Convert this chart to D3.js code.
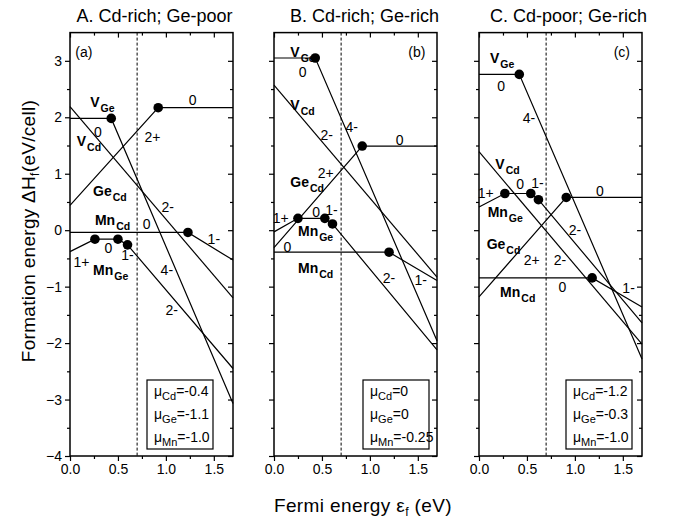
<!DOCTYPE html>
<html>
<head>
<meta charset="utf-8">
<script src="https://cdn.jsdelivr.net/npm/d3@7"></script>
<style>
  body { margin: 0; background: #fff; }
  text { font-family: "Liberation Sans", Arial, Helvetica, sans-serif; fill: #000; }
</style>
</head>
<body>
<div id="chart"></div>
<script>
// Panel titles and tags
const titles = ["A. Cd-rich; Ge-poor", "B. Cd-rich; Ge-rich", "C. Cd-poor; Ge-rich"];
const tags = ["(a)", "(b)", "(c)"];

// Chemical potentials per panel
const muCd = ["-0.4", "0", "-1.2"];
const muGe = ["-1.1", "0", "-0.3"];
const muMn = ["-1.0", "-0.25", "-1.0"];

// Axis ticks
const xTicks = [0, 0.5, 1.0, 1.5];
const xMinor = [0.25, 0.75, 1.25];
const yTicks = [-4, -3, -2, -1, 0, 1, 2, 3];
const yMinor = [-3.5, -2.5, -1.5, -0.5, 0.5, 1.5, 2.5];
const gapLine = 0.7; // dashed line

// Formation energy curves: corner points [Fermi energy, energy], one list per panel
const vGe = [
    [[0, 1.98], [0.43, 1.98], [1.7, -3.07]],
    [[0, 3.05], [0.43, 3.05], [1.7, -1.96]],
    [[0, 2.76], [0.42, 2.76], [1.7, -2.28]]
];
const vCd = [
    [[0, 2.19], [1.7, -1.20]],
    [[0, 2.57], [1.7, -0.83]],
    [[0, 1.39], [1.7, -2.02]]
];
const geCd = [
    [[0, 0.44], [0.92, 2.17], [1.7, 2.17]],
    [[0, -0.31], [0.92, 1.49], [1.7, 1.49]],
    [[0, -1.18], [0.91, 0.58], [1.7, 0.58]]
];
const mnCd = [
    [[0, -0.04], [1.23, -0.04], [1.7, -0.53]],
    [[0, -0.39], [1.20, -0.39], [1.7, -0.89]],
    [[0, -0.845], [1.18, -0.845], [1.7, -1.36]]
];
const mnGe = [
    [[0, -0.38], [0.26, -0.16], [0.50, -0.16], [0.60, -0.26], [1.7, -2.45]],
    [[0, -0.03], [0.25, 0.21], [0.53, 0.21], [0.61, 0.11], [1.7, -2.12]],
    [[0, 0.41], [0.27, 0.65], [0.54, 0.65], [0.62, 0.54], [1.7, -1.64]]
];
const curves = [vGe, vCd, geCd, mnCd, mnGe];

// Charge state labels [x, y, text]
const chargeNotes = [
    [[0.29, 1.74, "0"], [1.28, 2.30, "0"], [0.86, 1.65, "2+"], [1.02, 0.41, "2-"], [0.80, 0.11, "0"],
     [1.50, -0.16, "1-"], [0.40, -0.32, "0"], [0.60, -0.44, "1-"], [0.12, -0.56, "1+"],
     [1.01, -0.71, "4-"], [1.06, -1.41, "2-"]],
    [[0.30, 2.80, "0"], [0.55, 1.69, "2-"], [0.81, 1.83, "4-"], [1.31, 1.60, "0"], [0.54, 1.02, "2+"],
     [0.07, 0.22, "1+"], [0.44, 0.33, "0"], [0.60, 0.36, "1-"], [0.14, -0.29, "0"],
     [1.20, -0.85, "2-"], [1.53, -0.89, "1-"]],
    [[0.23, 2.55, "0"], [0.52, 1.98, "4-"], [0.07, 0.66, "1+"], [0.43, 0.81, "0"], [0.61, 0.84, "1-"],
     [1.26, 0.70, "0"], [1.00, 0.00, "2-"], [0.55, -0.53, "2+"], [0.845, -0.53, "2-"],
     [0.87, -1.00, "0"], [1.56, -1.03, "1-"]]
];

// Defect name labels [x, y, name, subscript]
const defectNotes = [
    [[0.21, 2.18, "V", "Ge"], [0.07, 1.49, "V", "Cd"], [0.24, 0.61, "Ge", "Cd"], [0.26, 0.09, "Mn", "Cd"], [0.24, -0.79, "Mn", "Ge"]],
    [[0.17, 3.07, "V", "Ge"], [0.17, 2.13, "V", "Cd"], [0.17, 0.77, "Ge", "Cd"], [0.25, -0.10, "Mn", "Ge"], [0.25, -0.75, "Mn", "Cd"]],
    [[0.115, 2.97, "V", "Ge"], [0.17, 1.08, "V", "Cd"], [0.09, 0.24, "Mn", "Ge"], [0.08, -0.34, "Ge", "Cd"], [0.22, -1.18, "Mn", "Cd"]]
];

// Layout
const width = 673, height = 519;
const panelLeft = [70, 274, 479];
const panelW = 163;
const plotTop = 32.6, plotBottom = 456;
const titleShift = [3, 9, 8];
const boxRight = [20, 8, 10];

const svg = d3.select("#chart")
    .append("svg")
    .attr("width", width)
    .attr("height", height);

const y = d3.scaleLinear().domain([-4, 3.5]).range([plotBottom, plotTop]);

titles.forEach((title, i) => {
    const x0 = panelLeft[i];
    const x = d3.scaleLinear().domain([0, 1.7]).range([x0, x0 + panelW]);
    const g = svg.append("g");

    // Title
    g.append("text")
        .attr("x", x0 + panelW / 2 + titleShift[i])
        .attr("y", 22)
        .attr("text-anchor", "middle")
        .style("font-size", "18px")
        .text(title);

    // Dashed line
    g.append("line")
        .attr("x1", x(gapLine)).attr("x2", x(gapLine))
        .attr("y1", plotTop).attr("y2", plotBottom)
        .attr("stroke", "#000")
        .attr("stroke-width", 1)
        .attr("stroke-dasharray", "3,2");

    // Axes: outward ticks left and bottom, inward ticks right and top
    const axes = [
        [d3.axisLeft(y).tickValues(yTicks).tickSize(5), `translate(${x0},0)`, i === 0],
        [d3.axisLeft(y).tickValues(yMinor).tickSize(3), `translate(${x0},0)`, false],
        [d3.axisRight(y).tickValues(yTicks).tickSize(-5), `translate(${x0 + panelW},0)`, false],
        [d3.axisRight(y).tickValues(yMinor).tickSize(-3), `translate(${x0 + panelW},0)`, false],
        [d3.axisBottom(x).tickValues(xTicks).tickSize(5).tickFormat(d3.format(".1f")), `translate(0,${plotBottom})`, true],
        [d3.axisBottom(x).tickValues(xMinor).tickSize(3), `translate(0,${plotBottom})`, false],
        [d3.axisTop(x).tickValues(xTicks).tickSize(-5), `translate(0,${plotTop})`, false],
        [d3.axisTop(x).tickValues(xMinor).tickSize(-3), `translate(0,${plotTop})`, false]
    ];
    axes.forEach(([axis, tr, labels]) => {
        const a = g.append("g").attr("transform", tr).call(axis.tickPadding(3));
        a.select(".domain").remove();
        a.selectAll("line").attr("stroke-width", 1.2);
        a.selectAll("text")
            .style("font-size", "14px")
            .style("font-family", "'Liberation Sans', Arial, sans-serif")
            .attr("fill", "#000")
            .style("display", labels ? null : "none");
    });

    // Frame
    g.append("rect")
        .attr("x", x0).attr("y", plotTop)
        .attr("width", panelW).attr("height", plotBottom - plotTop)
        .attr("fill", "none")
        .attr("stroke", "#000")
        .attr("stroke-width", 1.5);

    // Curves
    const line = d3.line().x(d => x(d[0])).y(d => y(d[1]));
    curves.forEach(c => {
        const pts = c[i];
        g.append("path")
            .attr("d", line(pts))
            .attr("fill", "none")
            .attr("stroke", "#000")
            .attr("stroke-width", 1.2);
        g.selectAll(null)
            .data(pts.slice(1, -1))
            .enter()
            .append("circle")
            .attr("cx", d => x(d[0]))
            .attr("cy", d => y(d[1]))
            .attr("r", 4.8)
            .attr("fill", "#000");
    });

    // Charge labels
    g.selectAll(null)
        .data(chargeNotes[i])
        .enter()
        .append("text")
        .attr("x", d => x(d[0]))
        .attr("y", d => y(d[1]))
        .attr("dy", "0.36em")
        .attr("text-anchor", "middle")
        .style("font-size", "14px")
        .text(d => d[2]);

    // Defect labels
    const dl = g.selectAll(null)
        .data(defectNotes[i])
        .enter()
        .append("text")
        .attr("x", d => x(d[0]))
        .attr("y", d => y(d[1]))
        .style("font-size", "14px")
        .style("font-weight", "bold");
    dl.append("tspan").text(d => d[2]);
    dl.append("tspan")
        .attr("dy", 5)
        .attr("dx", 1)
        .style("font-size", "10.5px")
        .text(d => d[3]);

    // Tag
    g.append("text")
        .attr("x", x(i === 0 ? 0.145 : 1.49))
        .attr("y", y(3.16))
        .attr("dy", "0.36em")
        .attr("text-anchor", "middle")
        .style("font-size", "14px")
        .text(tags[i]);

    // Chemical potential box
    const bx = x0 + panelW - boxRight[i] - 66;
    g.append("rect")
        .attr("x", bx).attr("y", 380)
        .attr("width", 66).attr("height", 69)
        .attr("fill", "#fff")
        .attr("stroke", "#000")
        .attr("stroke-width", 1.2);
    [["Cd", muCd[i]], ["Ge", muGe[i]], ["Mn", muMn[i]]].forEach(([el, v], k) => {
        const t = g.append("text")
            .attr("x", bx + 7)
            .attr("y", 396 + k * 23)
            .style("font-size", "14px");
        t.append("tspan").text("\u03bc");
        t.append("tspan").attr("dy", 4).style("font-size", "11px").text(el);
        t.append("tspan").attr("dy", -4).text("=" + v);
    });
});

// Axis titles
svg.append("text")
    .attr("x", 363)
    .attr("y", 512)
    .attr("text-anchor", "middle")
    .style("font-size", "19px")
    .style("letter-spacing", "0.4px")
    .html("Fermi energy \u03b5<tspan dy='4' font-size='12px'>f</tspan><tspan dy='-4'> (eV)</tspan>");

svg.append("text")
    .attr("transform", "translate(35,231) rotate(-90)")
    .attr("text-anchor", "middle")
    .style("font-size", "19px")
    .style("letter-spacing", "0.3px")
    .html("Formation energy \u0394H<tspan dy='4' font-size='12px'>f</tspan><tspan dy='-4'>(eV/cell)</tspan>");
</script>
</body>
</html>
